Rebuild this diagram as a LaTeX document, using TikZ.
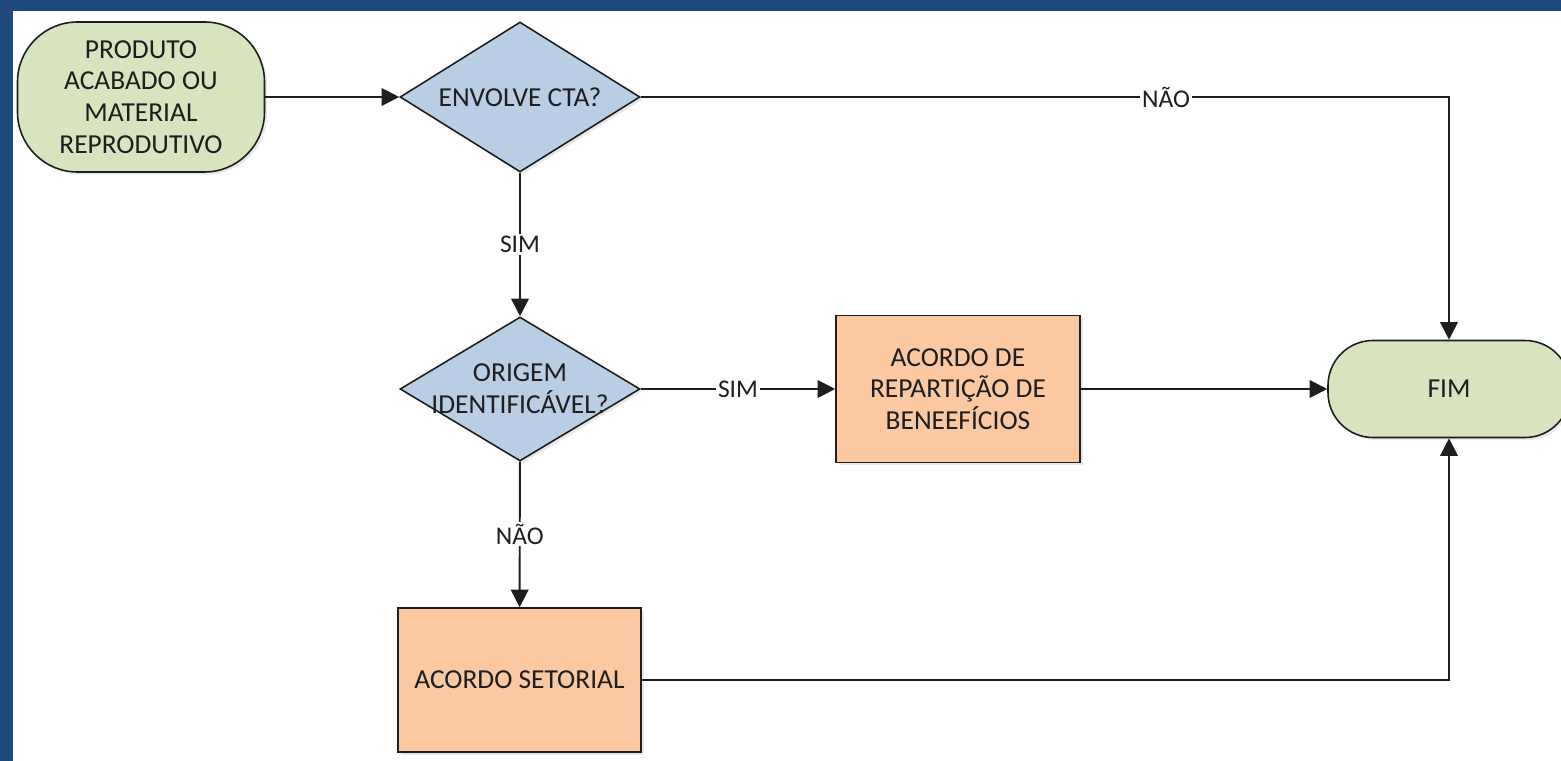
\documentclass[tikz,border=0pt]{standalone}
\usepackage{fontspec}
\setmainfont{Carlito}
\usetikzlibrary{positioning}
\usetikzlibrary{arrows.meta}
\usetikzlibrary{shapes.geometric}
\usetikzlibrary{shadows}
\definecolor{frameblue}{HTML}{1F497D}
\definecolor{termgreen}{HTML}{D7E4BD}
\definecolor{decblue}{HTML}{B9CDE5}
\definecolor{procorange}{HTML}{FAC9A2}
\definecolor{inkgray}{HTML}{1E1E1E}
\tikzset{
  shade/.style = {drop shadow={opacity=0.18, shadow xshift=1.5pt, shadow yshift=-1.5pt}},
  term/.style = {draw=inkgray, fill=termgreen, line width=0.9pt, shade, align=center,
    text=inkgray, font=\fontsize{15.6}{18}\selectfont},
  decision/.style = {diamond, draw=inkgray, fill=decblue, line width=0.9pt, shade,
    inner sep=0, minimum width=4.8cm, minimum height=3cm},
  dectext/.style = {align=center, text=inkgray, font=\fontsize{15.6}{18}\selectfont},
  process/.style = {draw=inkgray, fill=procorange, line width=0.9pt, shade, align=center,
    text=inkgray, minimum width=4.88cm, minimum height=2.94cm, font=\fontsize{15.6}{18}\selectfont},
  flow/.style = {draw=inkgray, line width=1.1pt, -{Triangle[length=10pt, width=10pt]}},
  lbl/.style = {fill=white, inner sep=1pt, text=inkgray, font=\fontsize{14.5}{16}\selectfont}
}

\begin{document}
\begin{tikzpicture}
    \clip (0,0) rectangle (31.22,-15.22);
    % frame
    \fill[frameblue] (0,0) rectangle (31.22,-0.22);
    \fill[frameblue] (0,0) rectangle (0.25,-15.22);

    \coordinate (s) at (2.82,-1.94);
    \coordinate (q1) at (10.4,-1.94);
    \coordinate (q2) at (10.4,-7.78);
    \coordinate (a1) at (19.16,-7.78);
    \coordinate (a2) at (10.39,-13.6);
    \coordinate (f) at (28.98,-7.78);

    \node[term, minimum width=4.94cm, minimum height=3cm, rounded corners=1.2cm] (start) at (s)
        {PRODUTO\\ACABADO OU\\MATERIAL\\REPRODUTIVO};
    \node[decision, label={[dectext]center:ENVOLVE CTA?}] (cta) at (q1) {};
    \node[decision, minimum height=2.88cm,
        label={[dectext]center:ORIGEM\\IDENTIFICÁVEL?}] (origem) at (q2) {};
    \node[process] (repart) at (a1) {ACORDO DE\\REPARTIÇÃO DE\\BENEEFÍCIOS};
    \node[process, minimum width=4.86cm, minimum height=2.88cm] (setor) at (a2) {ACORDO SETORIAL};
    \node[term, minimum width=4.84cm, minimum height=1.94cm, rounded corners=0.9cm] (fim) at (f) {FIM};

    \draw[flow] (start) -- (cta);
    \draw[flow] (cta.east) -| node[lbl, pos=0.325] {NÃO} (fim.north);
    \draw[flow] (cta) -- node[lbl] {SIM} (origem);
    \draw[flow] (origem) -- node[lbl] {SIM} (repart);
    \draw[flow] (repart) -- (fim);
    \draw[flow] (origem) -- node[lbl] {NÃO} (setor);
    \draw[flow] (setor.east) -| (fim.south);
\end{tikzpicture}
\end{document}
